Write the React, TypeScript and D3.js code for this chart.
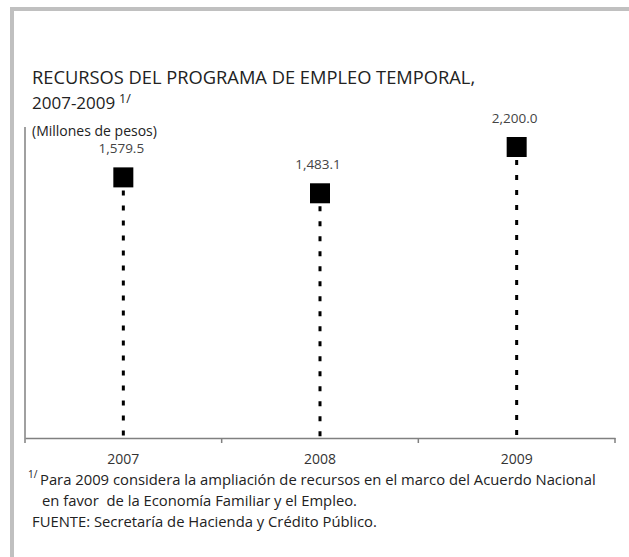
import { useEffect, useRef } from 'react';
import * as d3 from 'd3';

const years = ['2007', '2008', '2009'];
const values = [1579.5, 1483.1, 2200.0];
const valueLabels = ['1,579.5', '1,483.1', '2,200.0'];

const titleLines = ['RECURSOS DEL PROGRAMA DE EMPLEO TEMPORAL,', '2007-2009'];
const subtitle = '(Millones de pesos)';
const footnotes = [
  'Para 2009 considera la ampliación de recursos en el marco del Acuerdo Nacional',
  'en favor\u00a0 de la Economía Familiar y el Empleo.',
  'FUENTE: Secretaría de Hacienda y Crédito Público.',
];

const FONT = "'Open Sans', 'Noto Sans', sans-serif";

export default function App() {
  const svgRef = useRef<SVGSVGElement>(null);

  useEffect(() => {
    if (!svgRef.current) return;

    const width = 629;
    const height = 557;
    const plot = { left: 25, right: 615, top: 127, bottom: 438 };

    d3.select(svgRef.current).selectAll('*').remove();
    const svg = d3
      .select(svgRef.current)
      .attr('width', width)
      .attr('height', height)
      .style('font-family', FONT);

    svg.append('rect').attr('width', width).attr('height', height).attr('fill', '#fff');

    // outer frame (top + left only)
    svg.append('path')
      .attr('d', `M12,${height} V9 H${width}`)
      .attr('fill', 'none')
      .attr('stroke', '#c0c0c0')
      .attr('stroke-width', 4);

    // title
    svg.append('text')
      .attr('x', 32)
      .attr('y', 84)
      .attr('font-size', 18.3)
      .attr('fill', '#222')
      .text(titleLines[0]);
    svg.append('text')
      .attr('x', 32)
      .attr('y', 109)
      .attr('font-size', 17)
      .attr('fill', '#222')
      .text(titleLines[1]);
    svg.append('text')
      .attr('x', 119)
      .attr('y', 103)
      .attr('font-size', 12.5)
      .attr('fill', '#222')
      .text('1/');

    svg.append('text')
      .attr('x', 32)
      .attr('y', 136)
      .attr('font-size', 14)
      .attr('fill', '#222')
      .text(subtitle);

    // scales
    const x = d3.scaleBand<string>().domain(years).range([plot.left, plot.right]).padding(0);
    const y = d3
      .scaleLinear()
      .domain([0, 1600, 2200])
      .range([plot.bottom, 174, 147]);

    // axes
    svg.append('line')
      .attr('x1', plot.left).attr('x2', plot.left)
      .attr('y1', plot.top).attr('y2', plot.bottom)
      .attr('stroke', '#808080').attr('stroke-width', 1.5);

    const xAxis = svg.append('g')
      .attr('transform', `translate(0,${plot.bottom})`)
      .call(
        d3.axisBottom(x)
          .tickValues([])
          .tickSizeOuter(0),
      );
    xAxis.select('.domain').attr('stroke', '#808080').attr('stroke-width', 1.5);

    const edges = years.map((yr) => x(yr) ?? 0).concat([plot.right]);
    svg.append('g')
      .selectAll('line')
      .data(edges)
      .join('line')
      .attr('x1', (d) => d).attr('x2', (d) => d)
      .attr('y1', plot.bottom).attr('y2', plot.bottom + 5)
      .attr('stroke', '#808080').attr('stroke-width', 1.5);

    svg.append('g')
      .selectAll('text')
      .data(years)
      .join('text')
      .attr('x', (d) => (x(d) ?? 0) + x.bandwidth() / 2)
      .attr('y', 464)
      .attr('text-anchor', 'middle')
      .attr('font-size', 14)
      .attr('fill', '#333')
      .text((d) => d);

    const cx = (i: number) => (x(years[i]) ?? 0) + x.bandwidth() / 2;
    const sq = 20;

    // dotted droplines
    svg.append('g')
      .selectAll('line')
      .data(values)
      .join('line')
      .attr('x1', (_, i) => cx(i)).attr('x2', (_, i) => cx(i))
      .attr('y1', (d) => y(d) + sq / 2 + 3)
      .attr('y2', plot.bottom)
      .attr('stroke', '#000')
      .attr('stroke-width', 3)
      .attr('stroke-dasharray', '5,10');

    // square markers
    svg.append('g')
      .selectAll('rect')
      .data(values)
      .join('rect')
      .attr('x', (_, i) => cx(i) - sq / 2)
      .attr('y', (d) => y(d) - sq / 2)
      .attr('width', sq)
      .attr('height', sq)
      .attr('fill', '#000');

    // value labels
    svg.append('g')
      .selectAll('text')
      .data(values)
      .join('text')
      .attr('x', (_, i) => cx(i) - 2)
      .attr('y', (d) => y(d) - 24)
      .attr('text-anchor', 'middle')
      .attr('font-size', 13.5)
      .attr('fill', '#444')
      .text((_, i) => valueLabels[i]);

    // footnotes
    svg.append('text')
      .attr('x', 28).attr('y', 478)
      .attr('font-size', 10).attr('fill', '#222')
      .text('1/');
    svg.append('text')
      .attr('x', 40).attr('y', 485)
      .attr('font-size', 14.8).attr('fill', '#222')
      .text(footnotes[0]);
    svg.append('text')
      .attr('x', 42).attr('y', 506)
      .attr('font-size', 14.8).attr('fill', '#222')
      .text(footnotes[1]);
    svg.append('text')
      .attr('x', 32).attr('y', 527)
      .attr('font-size', 14.8).attr('fill', '#222')
      .text(footnotes[2]);
  }, []);

  return <svg ref={svgRef} style={{ position: 'absolute', left: 0, top: 0 }} />;
}
